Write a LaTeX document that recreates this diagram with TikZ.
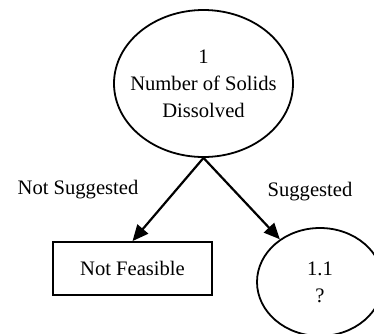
\documentclass[tikz,border=0pt]{standalone}
\usepackage{fontspec}
\setmainfont{Liberation Serif}
\usepackage{tikz}
\usetikzlibrary{shapes.geometric,arrows.meta}

\begin{document}
\begin{tikzpicture}[
    x=0.5pt, y=-0.5pt,
    every node/.style={font=\fontsize{10.3}{13.5}\selectfont, align=center},
    decision/.style={draw, ellipse, line width=0.9pt, inner sep=-12pt},
    outcome/.style={draw, rectangle, line width=0.9pt, minimum width=79.5pt, minimum height=26.5pt},
    branch/.style={line width=1.1pt, -{Triangle[length=8pt,width=7pt]}}]
    \useasboundingbox (0,0) rectangle (374,333);
    \node[decision, minimum width=89.5pt, minimum height=73.5pt] (solids) at (203.5,83.5) {1\\Number of Solids\\Dissolved};
    \node[outcome] (notfeasible) at (132.5,268.5) {Not Feasible};
    \node[decision, minimum width=63pt, minimum height=54pt] (next) at (320,282) {1.1\\?};
    \node (notsugg) at (78,190) {Not Suggested};
    \node (sugg) at (310,192) {Suggested};
    \draw[branch] (solids.south) -- (notfeasible.north);
    \draw[branch] (solids.south) -- (next);
  \end{tikzpicture}
\end{document}
